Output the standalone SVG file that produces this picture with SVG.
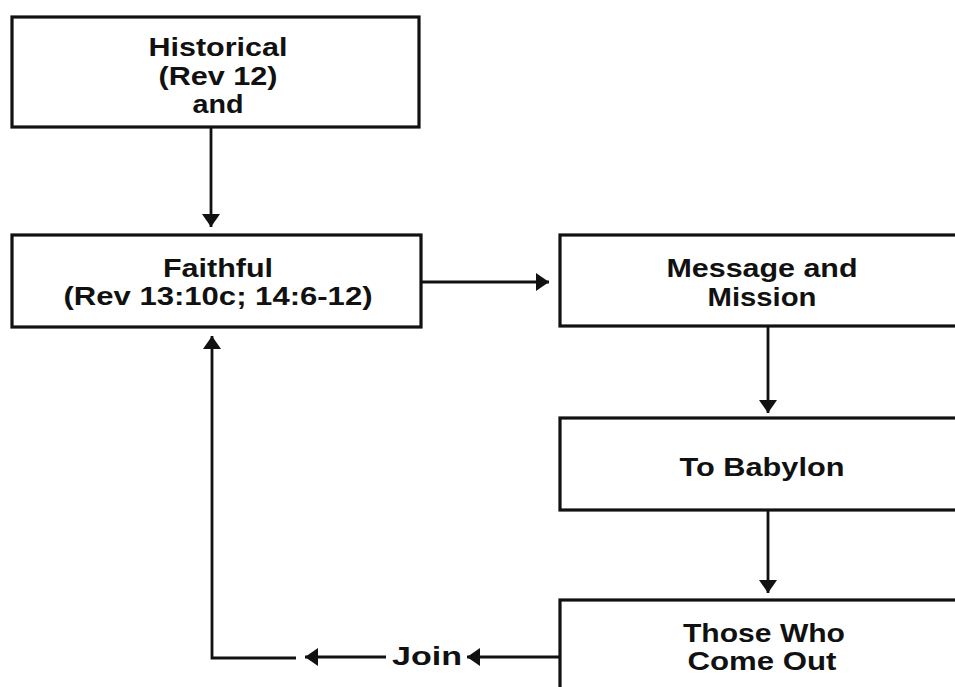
<svg xmlns="http://www.w3.org/2000/svg" width="955" height="687" viewBox="0 0 955 687">
<style>
.box{fill:#fff;stroke:#111;stroke-width:3.2}
.t{font-family:"Liberation Sans",Arial,sans-serif;font-weight:bold;font-size:25px;fill:#111;text-anchor:middle}
.c{fill:none;stroke:#111;stroke-width:2.8}
</style>
<defs>
<marker id="ah" markerUnits="userSpaceOnUse" markerWidth="16" markerHeight="22" viewBox="0 -11 16 22" refX="13" refY="0" orient="auto">
<path d="M0,-9 L13,0 L0,9 z" fill="#111"/>
</marker>
</defs>
<rect width="955" height="687" fill="#fff"/>
<g id="connectors">
<line class="c" x1="211" y1="127" x2="211" y2="227" marker-end="url(#ah)"/>
<line class="c" x1="421" y1="282" x2="549" y2="282" marker-end="url(#ah)"/>
<line class="c" x1="768" y1="326" x2="768" y2="413" marker-end="url(#ah)"/>
<line class="c" x1="768" y1="510" x2="768" y2="593" marker-end="url(#ah)"/>
<line class="c" x1="560" y1="657" x2="467" y2="657" marker-end="url(#ah)"/>
<line class="c" x1="386" y1="657" x2="305" y2="657" marker-end="url(#ah)"/>
<polyline class="c" points="296,658 212,658 212,336" marker-end="url(#ah)"/>
<text id="join" class="t" x="427" y="665" font-size="32" textLength="70" lengthAdjust="spacingAndGlyphs">Join</text>
</g>
<g id="historical">
<rect class="box" x="12" y="17" width="407" height="110"/>
<text class="t" x="218" y="56" textLength="139" lengthAdjust="spacingAndGlyphs">Historical</text>
<text class="t" x="218" y="85" textLength="119" lengthAdjust="spacingAndGlyphs">(Rev 12)</text>
<text class="t" x="218" y="113" textLength="51" lengthAdjust="spacingAndGlyphs">and</text>
</g>
<g id="faithful">
<rect class="box" x="12" y="235" width="409" height="92"/>
<text class="t" x="218" y="277" textLength="110" lengthAdjust="spacingAndGlyphs">Faithful</text>
<text class="t" x="218" y="305" textLength="309" lengthAdjust="spacingAndGlyphs">(Rev 13:10c; 14:6-12)</text>
</g>
<g id="message">
<rect class="box" x="560" y="235" width="400" height="91"/>
<text class="t" x="762" y="277" textLength="191" lengthAdjust="spacingAndGlyphs">Message and</text>
<text class="t" x="762" y="306" textLength="109" lengthAdjust="spacingAndGlyphs">Mission</text>
</g>
<g id="babylon">
<rect class="box" x="560" y="418" width="400" height="92"/>
<text class="t" x="762" y="476" textLength="165" lengthAdjust="spacingAndGlyphs">To Babylon</text>
</g>
<g id="comeout">
<rect class="box" x="560" y="600" width="400" height="100"/>
<text class="t" x="764" y="642" textLength="162" lengthAdjust="spacingAndGlyphs">Those Who</text>
<text class="t" x="762" y="670" textLength="149" lengthAdjust="spacingAndGlyphs">Come Out</text>
</g>
</svg>
